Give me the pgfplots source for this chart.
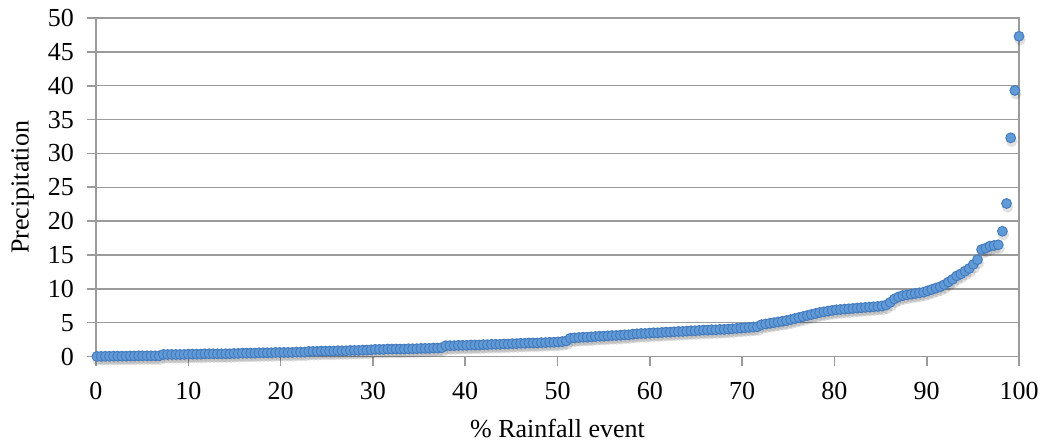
\documentclass[border=0pt]{standalone}
\usepackage{fontspec}
\setmainfont{Liberation Serif}
\usepackage{pgfplots}
\usepackage{pgfplotstable}
\pgfplotsset{compat=1.18}
\definecolor{gridgray}{RGB}{155,155,155}
\definecolor{ptblue}{RGB}{96,155,216}
\definecolor{ptedge}{RGB}{70,124,190}
\pgfplotstableread{
x y
0.1 0.01
0.55 0.02
1.0 0.03
1.45 0.03
1.9 0.05
2.35 0.05
2.8 0.05
3.25 0.05
3.7 0.08
4.15 0.08
4.6 0.1
5.05 0.1
5.5 0.1
5.95 0.1
6.4 0.1
6.85 0.1
7.3 0.3
7.75 0.3
8.2 0.3
8.65 0.3
9.1 0.3
9.55 0.3
10.0 0.35
10.45 0.35
10.9 0.35
11.35 0.35
11.8 0.4
12.25 0.4
12.7 0.4
13.15 0.4
13.6 0.4
14.05 0.4
14.5 0.4
14.95 0.45
15.4 0.45
15.85 0.5
16.3 0.5
16.75 0.5
17.2 0.5
17.65 0.55
18.1 0.55
18.55 0.55
19.0 0.55
19.45 0.6
19.9 0.6
20.35 0.6
20.8 0.6
21.25 0.6
21.7 0.65
22.15 0.65
22.6 0.65
23.05 0.75
23.5 0.75
23.95 0.75
24.4 0.8
24.85 0.8
25.3 0.8
25.75 0.8
26.2 0.85
26.65 0.85
27.1 0.85
27.55 0.9
28.0 0.9
28.45 0.9
28.9 0.95
29.35 0.95
29.8 1.0
30.25 1.05
30.7 1.05
31.15 1.05
31.6 1.1
32.05 1.1
32.5 1.1
32.95 1.1
33.4 1.1
33.85 1.15
34.3 1.15
34.75 1.15
35.2 1.2
35.65 1.2
36.1 1.2
36.55 1.25
37.0 1.25
37.45 1.3
37.9 1.6
38.35 1.6
38.8 1.6
39.25 1.65
39.7 1.65
40.15 1.65
40.6 1.7
41.05 1.7
41.5 1.7
41.95 1.75
42.4 1.75
42.85 1.8
43.3 1.8
43.75 1.8
44.2 1.85
44.65 1.85
45.1 1.9
45.55 1.9
46.0 1.95
46.45 1.95
46.9 2.0
47.35 2.0
47.8 2.0
48.25 2.05
48.7 2.05
49.15 2.1
49.6 2.1
50.05 2.15
50.5 2.2
50.95 2.3
51.4 2.7
51.85 2.75
52.3 2.8
52.75 2.85
53.2 2.85
53.65 2.9
54.1 2.95
54.55 3.0
55.0 3.0
55.45 3.05
55.9 3.1
56.35 3.1
56.8 3.15
57.25 3.2
57.7 3.2
58.15 3.3
58.6 3.35
59.05 3.4
59.5 3.4
59.95 3.45
60.4 3.5
60.85 3.5
61.3 3.55
61.75 3.6
62.2 3.6
62.65 3.65
63.1 3.7
63.55 3.7
64.0 3.75
64.45 3.8
64.9 3.8
65.35 3.85
65.8 3.9
66.25 3.9
66.7 3.95
67.15 3.95
67.6 4.0
68.05 4.0
68.5 4.05
68.95 4.1
69.4 4.15
69.85 4.2
70.3 4.25
70.75 4.3
71.2 4.35
71.65 4.4
72.1 4.7
72.55 4.8
73.0 4.9
73.45 5.0
73.9 5.1
74.35 5.2
74.8 5.3
75.25 5.45
75.7 5.6
76.15 5.75
76.6 5.9
77.05 6.05
77.5 6.2
77.95 6.35
78.4 6.5
78.85 6.6
79.3 6.7
79.75 6.8
80.2 6.9
80.65 6.95
81.1 7.0
81.55 7.05
82.0 7.1
82.45 7.15
82.9 7.2
83.35 7.25
83.8 7.3
84.25 7.35
84.7 7.4
85.15 7.45
85.6 7.6
86.05 8.0
86.5 8.5
86.95 8.8
87.4 9.0
87.85 9.1
88.3 9.2
88.75 9.3
89.2 9.4
89.65 9.5
90.1 9.7
90.55 9.9
91.0 10.1
91.45 10.3
91.9 10.6
92.35 11.0
92.8 11.4
93.25 11.9
93.7 12.2
94.15 12.6
94.6 13.0
95.05 13.6
95.5 14.3
95.95 15.8
96.4 16.0
96.85 16.3
97.3 16.4
97.75 16.5
98.2 18.5
98.65 22.6
99.1 32.3
99.55 39.3
100.0 47.3
}\rain
\begin{document}
\begin{tikzpicture}
\begin{axis}[
  name=ax,
  scale only axis,
  width=461.5pt, height=169.25pt,
  xmin=0, xmax=100, ymin=0, ymax=50,
  xtick={0,10,...,100}, ytick={0,5,...,50},
  ymajorgrids,
  grid style={gridgray, line width=0.7pt},
  axis line style={gridgray, line width=0.8pt},
  tick style={gridgray, line width=0.8pt},
  tick align=outside, tick pos=left,
  major tick length=4.5pt,
  /pgf/number format/assume math mode=true,
  tick label style={font=\fontsize{13}{15}\selectfont},
  yticklabel style={xshift=-3pt},
  xticklabel style={yshift=-5pt},
  label style={font=\fontsize{13}{15}\selectfont},
  xlabel={\% Rainfall event},
  xlabel style={yshift=-2.5pt},
  ylabel={Precipitation},
  clip=false,
]
\addplot[only marks, mark=*, mark size=2.8pt,
  mark options={fill=black, draw opacity=0, fill opacity=0.12, yshift=-1.8pt, xshift=0.5pt}]
  table[x=x, y=y] {\rain};
\addplot[only marks, mark=*, mark size=2.45pt,
  mark options={fill=ptblue, draw=ptedge, line width=0.5pt}]
  table[x=x, y=y] {\rain};
\path (rel axis cs:0,0) coordinate (bl) (rel axis cs:1,1) coordinate (tr);
\end{axis}
\pgfresetboundingbox
\path ([xshift=-48pt,yshift=-43.25pt]bl) rectangle ([xshift=11pt,yshift=9pt]tr);
\end{tikzpicture}
\end{document}
